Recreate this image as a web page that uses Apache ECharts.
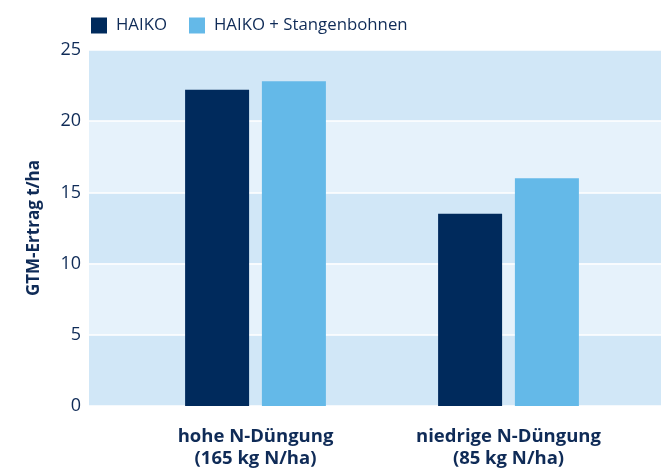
<!DOCTYPE html>
<html><head><meta charset="utf-8">
<script src="https://cdn.jsdelivr.net/npm/echarts@6/dist/echarts.min.js"></script>
<style>html,body{margin:0;padding:0;background:#fff}#c{width:661px;height:470px}</style>
</head><body><div id="c"></div>
<script>
const categories = ['hohe N-Düngung\n(165 kg N/ha)', 'niedrige N-Düngung\n(85 kg N/ha)'];
const seriesNames = ['HAIKO', 'HAIKO + Stangenbohnen'];
const haiko = [22.2, 13.5];
const haikoStangenbohnen = [22.8, 16.0];
const yTicks = [0, 5, 10, 15, 20, 25];

const font = 'Open Sans';
const textColor = '#0f2b57';
const chart = echarts.init(document.getElementById('c'));
chart.setOption({
  animation: false,
  textStyle: { fontFamily: font },
  legend: {
    left: 86, top: 12, itemWidth: 16, itemHeight: 16, itemGap: 22,
    icon: 'rect',
    textStyle: { fontFamily: font, fontSize: 16.8, color: textColor, padding: [0, 0, 0, 4] },
    data: seriesNames
  },
  grid: [
    { left: 89, right: 0, top: 50, bottom: 64 },
    { left: 129, right: 26, top: 50, bottom: 64 }
  ],
  xAxis: [
    { gridIndex: 0, type: 'value', min: 0, max: 1, show: false },
    {
      gridIndex: 1, type: 'category', data: categories,
      axisLine: { show: false }, axisTick: { show: false },
      axisLabel: { margin: 20, fontFamily: font, fontSize: 18.5, fontWeight: 'bold', color: textColor, lineHeight: 22 }
    }
  ],
  yAxis: [
    {
      gridIndex: 0, type: 'value', min: 0, max: 25, interval: 5,
      name: 'GTM-Ertrag t/ha', nameLocation: 'middle', nameGap: 46,
      nameTextStyle: { fontFamily: font, fontSize: 17, fontWeight: 'bold', color: textColor },
      axisLine: { show: false }, axisTick: { show: false },
      axisLabel: { margin: 8, fontFamily: font, fontSize: 18, color: textColor,
        formatter: v => yTicks.includes(v) ? String(v) : '' },
      splitLine: { show: true, lineStyle: { color: '#ffffff', width: 1.5 } },
      splitArea: { show: true, areaStyle: { color: ['#d1e7f7', '#e6f2fb'] } }
    },
    { gridIndex: 1, type: 'value', min: 0, max: 25, interval: 5, show: false, splitLine: { show: false } }
  ],
  series: [
    { name: seriesNames[0], type: 'bar', xAxisIndex: 1, yAxisIndex: 1, data: haiko,
      barWidth: 64, barGap: '20%', itemStyle: { color: '#002a5c' } },
    { name: seriesNames[1], type: 'bar', xAxisIndex: 1, yAxisIndex: 1, data: haikoStangenbohnen,
      barWidth: 64, barGap: '20%', itemStyle: { color: '#64b9e8' } }
  ]
});
</script></body></html>
